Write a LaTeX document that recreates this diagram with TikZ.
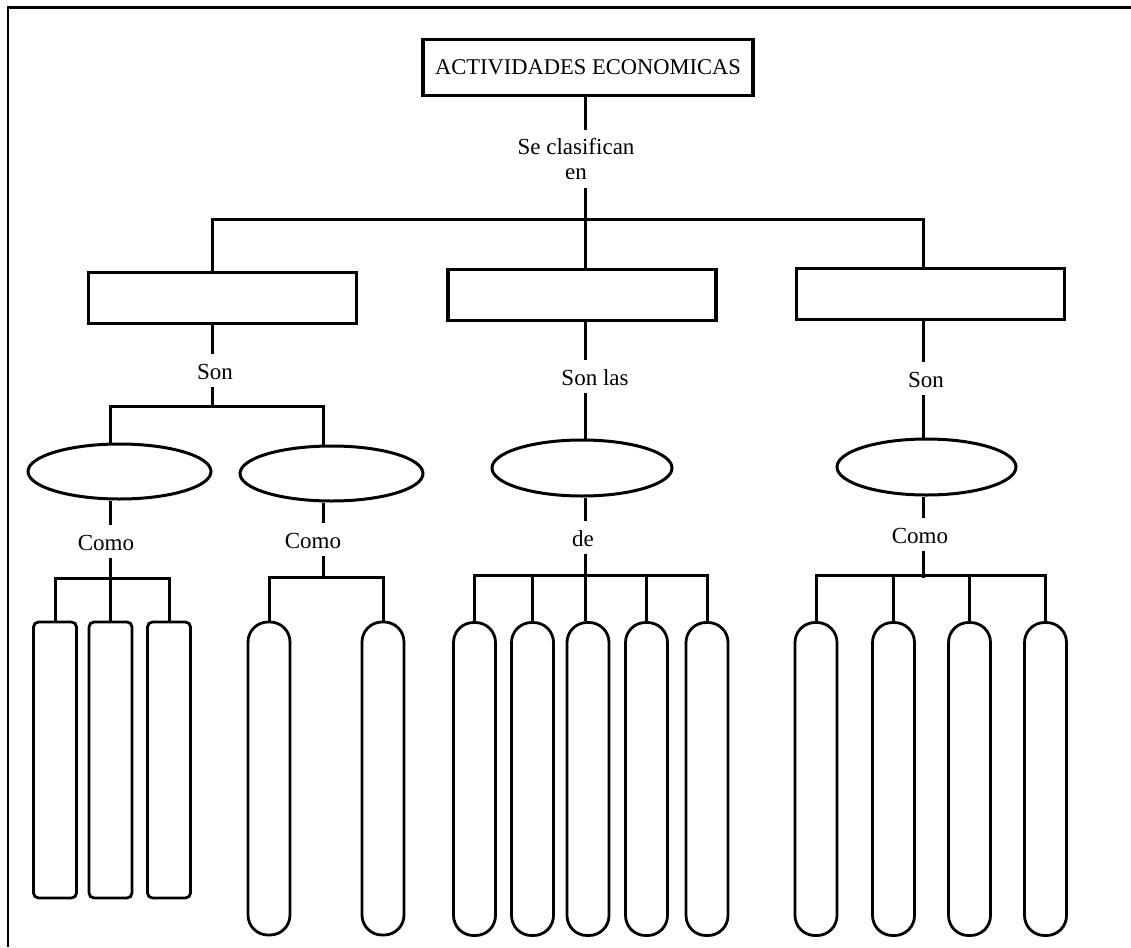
\documentclass[tikz,border=0pt]{standalone}
\usepackage{fontspec}
\setmainfont{Liberation Serif}
\usetikzlibrary{shapes.geometric}
\tikzset{
  conn/.style={line width=3pt},
  topbox/.style={draw, line width=3.5pt, inner sep=0pt, minimum width=330pt, minimum height=56pt,
    font=\fontsize{22.5}{25}\selectfont},
  catbox/.style={draw, line width=3.5pt, inner sep=0pt, minimum width=268pt, minimum height=51pt},
  oval/.style={draw, ellipse, line width=3pt, inner sep=0pt},
  lbl/.style={font=\fontsize{23}{25}\selectfont, text height=20pt, text depth=3pt, inner sep=5pt},
  lbltwo/.style={font=\fontsize{23}{25}\selectfont, align=center, inner sep=8pt},
  leafsq/.style={draw, line width=2.8pt, rounded corners=5pt, inner sep=0pt,
    minimum width=43pt, minimum height=276pt},
  leafrd/.style={draw, line width=2.8pt, rounded corners=20pt, inner sep=0pt,
    minimum width=42pt, minimum height=313pt},
}
\begin{document}
\begin{tikzpicture}[x=1pt, y=-1pt]
\useasboundingbox (0,0) rectangle (1131,947);
% frame
\draw[line width=2.7pt] (7,7.5) -- (1131,7.5);
\draw[line width=1.8pt] (8,7.5) -- (8,947);

% top
\node[topbox] (top) at (588,67.5) {ACTIVIDADES ECONOMICAS};
\node[lbltwo] (lbl0) at (576,159) {Se clasifican\\en};

% categories
\node[catbox] (b1) at (222.5,298) {};
\node[catbox] (b2) at (582,295) {};
\node[catbox] (b3) at (930.5,294) {};

\coordinate (J0) at (585,219);
\coordinate (J1) at (212,219);
\coordinate (J3) at (923,219);
\draw[conn] (top.south -| J0) -- (lbl0.north -| J0);
\draw[conn] (lbl0.south -| J0) -- (J0);
\draw[conn] (J1 |- b1.north) -- (J1) -- (J3) -- (J3 |- b3.north);
\draw[conn] (J0) -- (J0 |- b2.north);

% labels
\node[lbl] (s1) at (215,370.5) {Son};
\node[lbl] (s2) at (595,376.5) {Son las};
\node[lbl] (s3) at (926,378.5) {Son};
\node[lbl] (c1) at (106,541.5) {Como};
\node[lbl] (c2) at (313,539.5) {Como};
\node[lbl] (d3) at (583,537.5) {de};
\node[lbl] (c4) at (920,534.5) {Como};

% ellipses
\node[oval, minimum width=183pt, minimum height=55pt] (e1) at (119.5,471.5) {};
\node[oval, minimum width=183pt, minimum height=55pt] (e2) at (331.5,473.5) {};
\node[oval, minimum width=180pt, minimum height=56pt] (e3) at (582,468) {};
\node[oval, minimum width=179pt, minimum height=56pt] (e4) at (926.5,467) {};

% branch 1
\coordinate (K1) at (212,406);
\coordinate (K1a) at (110,406);
\coordinate (K1b) at (323,406);
\draw[conn] (K1 |- b1.south) -- (K1 |- s1.north);
\draw[conn] (K1 |- s1.south) -- (K1);
\draw[conn] (K1a |- e1.north) -- (K1a) -- (K1b) -- (K1b |- e2.north);

% branch 2 / 3
\coordinate (K2) at (585,0);
\coordinate (K3) at (923,0);
\draw[conn] (K2 |- b2.south) -- (K2 |- s2.north);
\draw[conn] (K2 |- s2.south) -- (K2 |- e3.north);
\draw[conn] (K3 |- b3.south) -- (K3 |- s3.north);
\draw[conn] (K3 |- s3.south) -- (K3 |- e4.north);

% leaves group 1
\node[leafsq] (r11) at (55,760) {};
\node[leafsq] (r12) at (110.5,760) {};
\node[leafsq] (r13) at (169,760) {};
\coordinate (L1) at (110,578);
\draw[conn] (L1 |- e1.south) -- (L1 |- c1.north);
\draw[conn] (L1 |- c1.south) -- (L1);
\draw[conn] (r11.north) |- (L1) -| (r13.north);
\draw[conn] (L1) -- (L1 |- r12.north);

% leaves group 2
\node[leafrd] (r21) at (269,778.5) {};
\node[leafrd] (r22) at (383,778.5) {};
\coordinate (L2) at (323,577);
\draw[conn] (L2 |- e2.south) -- (L2 |- c2.north);
\draw[conn] (L2 |- c2.south) -- (L2);
\draw[conn] (r21.north) |- (L2) -| (r22.north);

% leaves group 3
\node[leafrd] (r31) at (474.5,779) {};
\node[leafrd] (r32) at (532.5,779) {};
\node[leafrd] (r33) at (588,779) {};
\node[leafrd] (r34) at (646.5,779) {};
\node[leafrd] (r35) at (707,779) {};
\coordinate (L3) at (585,575);
\draw[conn] (L3 |- e3.south) -- (L3 |- d3.north);
\draw[conn] (L3 |- d3.south) -- (L3);
\draw[conn] (r31.north) |- (L3) -| (r35.north);
\draw[conn] (L3) -- (L3 |- r33.north);
\draw[conn] (r32.north) -- (r32.north |- L3);
\draw[conn] (r34.north) -- (r34.north |- L3);

% leaves group 4
\node[leafrd] (r41) at (816,779) {};
\node[leafrd] (r42) at (893.5,779) {};
\node[leafrd] (r43) at (969.5,779) {};
\node[leafrd] (r44) at (1045.5,779) {};
\coordinate (L4) at (923,575);
\draw[conn] (L4 |- e4.south) -- (L4 |- c4.north);
\draw[conn] (L4 |- c4.south) -- (L4) -- ++(0,3);
\draw[conn] (r41.north) |- (L4) -| (r44.north);
\draw[conn] (r42.north) -- (r42.north |- L4);
\draw[conn] (r43.north) -- (r43.north |- L4);
\end{tikzpicture}
\end{document}
